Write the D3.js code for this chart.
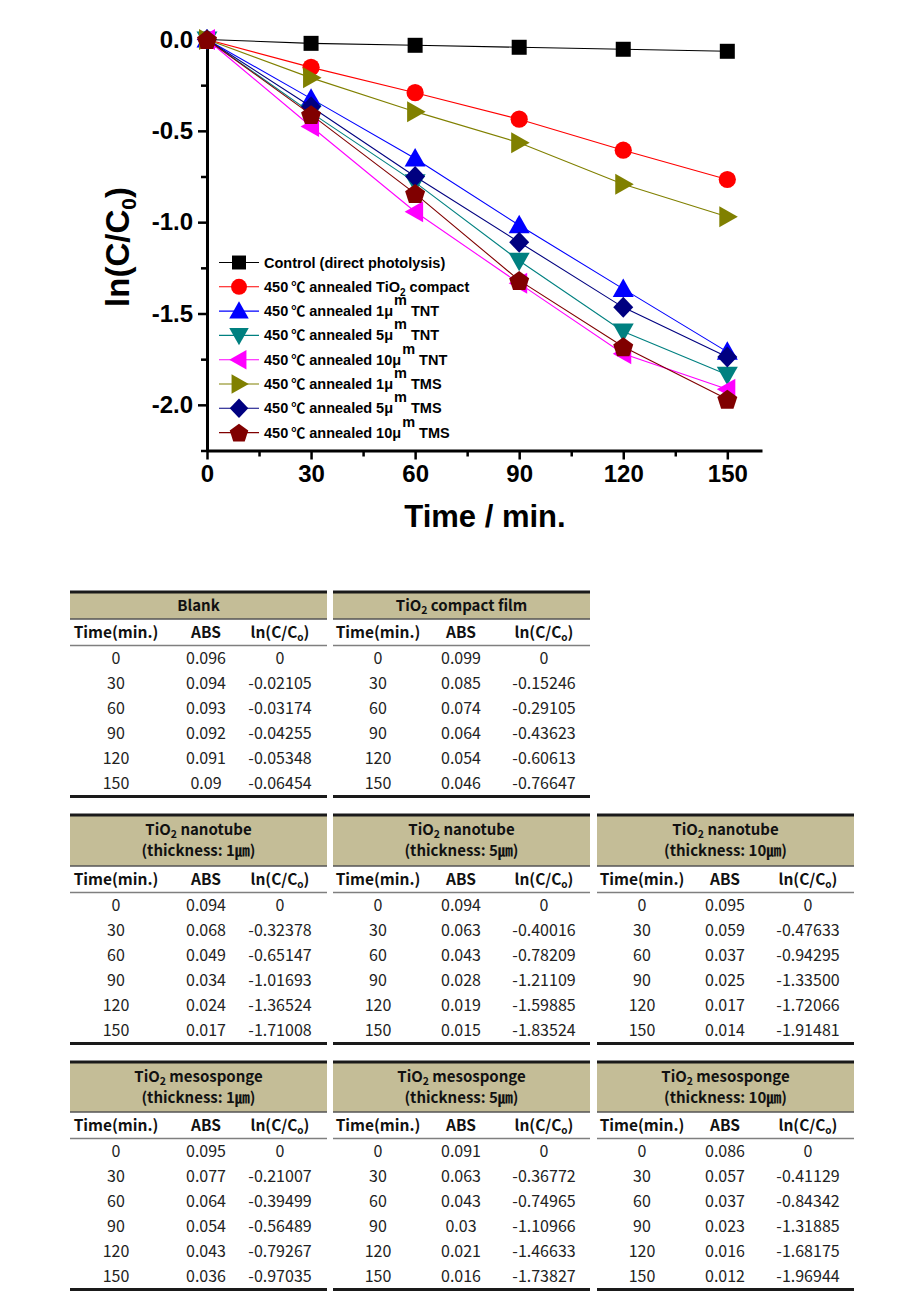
<!DOCTYPE html>
<html><head><meta charset="utf-8">
<script src="https://cdn.jsdelivr.net/npm/d3@7"></script>
<style>
body{margin:0;background:#fff;}
svg{display:block;}
</style></head><body>
<svg id="c" width="900" height="1303"></svg>
<script>
// ---------- data ----------
const times = [0, 30, 60, 90, 120, 150];
const timeLabels = ["0", "30", "60", "90", "120", "150"];

const blankABS   = ["0.096","0.094","0.093","0.092","0.091","0.09"];
const blankLn    = ["0","-0.02105","-0.03174","-0.04255","-0.05348","-0.06454"];
const compactABS = ["0.099","0.085","0.074","0.064","0.054","0.046"];
const compactLn  = ["0","-0.15246","-0.29105","-0.43623","-0.60613","-0.76647"];
const tnt1ABS    = ["0.094","0.068","0.049","0.034","0.024","0.017"];
const tnt1Ln     = ["0","-0.32378","-0.65147","-1.01693","-1.36524","-1.71008"];
const tnt5ABS    = ["0.094","0.063","0.043","0.028","0.019","0.015"];
const tnt5Ln     = ["0","-0.40016","-0.78209","-1.21109","-1.59885","-1.83524"];
const tnt10ABS   = ["0.095","0.059","0.037","0.025","0.017","0.014"];
const tnt10Ln    = ["0","-0.47633","-0.94295","-1.33500","-1.72066","-1.91481"];
const tms1ABS    = ["0.095","0.077","0.064","0.054","0.043","0.036"];
const tms1Ln     = ["0","-0.21007","-0.39499","-0.56489","-0.79267","-0.97035"];
const tms5ABS    = ["0.091","0.063","0.043","0.03","0.021","0.016"];
const tms5Ln     = ["0","-0.36772","-0.74965","-1.10966","-1.46633","-1.73827"];
const tms10ABS   = ["0.086","0.057","0.037","0.023","0.016","0.012"];
const tms10Ln    = ["0","-0.41129","-0.84342","-1.31885","-1.68175","-1.96944"];

const seriesLn = [blankLn, compactLn, tnt1Ln, tnt5Ln, tnt10Ln, tms1Ln, tms5Ln, tms10Ln];
const seriesColors = ["#000000","#ff0000","#0000ff","#008080","#ff00ff","#808000","#000080","#800000"];
const seriesSymbols = ["square","circle","up","down","left","right","diamond","pentagon"];
// legend label segments: [text, kind] kind: n normal, deg (℃), sub, sup
const legendLabels = [
  [["Control (direct photolysis)","n"]],
  [["450","n"],["℃","deg"],[" annealed TiO","n"],["2","sub"],[" compact","n"]],
  [["450","n"],["℃","deg"],[" annealed 1μ","n"],["m","sup"],[" TNT","n"]],
  [["450","n"],["℃","deg"],[" annealed 5μ","n"],["m","sup"],[" TNT","n"]],
  [["450","n"],["℃","deg"],[" annealed 10μ","n"],["m","sup"],[" TNT","n"]],
  [["450","n"],["℃","deg"],[" annealed 1μ","n"],["m","sup"],[" TMS","n"]],
  [["450","n"],["℃","deg"],[" annealed 5μ","n"],["m","sup"],[" TMS","n"]],
  [["450","n"],["℃","deg"],[" annealed 10μ","n"],["m","sup"],[" TMS","n"]]
];

const xTicks = [0, 30, 60, 90, 120, 150];
const xTickLabels = ["0", "30", "60", "90", "120", "150"];
const xMinorTicks = [15, 45, 75, 105, 135];
const yTicks = [0, -0.5, -1.0, -1.5, -2.0];
const yTickLabels = ["0.0", "-0.5", "-1.0", "-1.5", "-2.0"];
const yMinorTicks = [-0.25, -0.75, -1.25, -1.75, -2.25];

const tableTitles = [
  ["Blank"], ["TiO_{2} compact film"],
  ["TiO_{2} nanotube","(thickness: 1㎛)"], ["TiO_{2} nanotube","(thickness: 5㎛)"], ["TiO_{2} nanotube","(thickness: 10㎛)"],
  ["TiO_{2} mesosponge","(thickness: 1㎛)"], ["TiO_{2} mesosponge","(thickness: 5㎛)"], ["TiO_{2} mesosponge","(thickness: 10㎛)"]
];
const tableABS = [blankABS, compactABS, tnt1ABS, tnt5ABS, tnt10ABS, tms1ABS, tms5ABS, tms10ABS];
const tableLn  = [blankLn, compactLn, tnt1Ln, tnt5Ln, tnt10Ln, tms1Ln, tms5Ln, tms10Ln];
const tableHeads = ["Time(min.)", "ABS", "ln(C/C_{o})"];

// ---------- chart ----------
const svg = d3.select("#c");
const x = d3.scaleLinear().domain([0, 160]).range([207, 762]);
const y = d3.scaleLinear().domain([-2.25, 0]).range([450.5, 39.5]);
const AX = "'Liberation Sans', Arial, sans-serif";

function symPath(t){
  switch(t){
    case "square": return "M-7.5,-7.5H7.5V7.5H-7.5Z";
    case "circle": return d3.symbol(d3.symbolCircle, Math.PI*8.6*8.6)();
    case "up": return "M0,-10.5L10.5,8L-10.5,8Z";
    case "down": return "M0,10.5L10.5,-8L-10.5,-8Z";
    case "left": return "M-10.5,0L8,-10.5L8,10.5Z";
    case "right": return "M10.5,0L-8,-10.5L-8,10.5Z";
    case "diamond": return "M0,-10.5L10,0L0,10.5L-10,0Z";
    case "pentagon": {
      const r = 10.5, pts = [];
      for (let k = 0; k < 5; k++){ const a = -Math.PI/2 + k*2*Math.PI/5; pts.push([r*Math.cos(a), r*Math.sin(a)+1]); }
      return "M" + pts.map(p => p.map(v=>v.toFixed(2)).join(",")).join("L") + "Z";
    }
  }
}

// axes
const xAxisG = svg.append("g").attr("transform", `translate(0,${y(-2.25)})`)
  .call(d3.axisBottom(x).tickValues(xTicks).tickFormat((d,i)=>xTickLabels[i]).tickSize(9).tickSizeOuter(0).tickPadding(5));
const xMinorG = svg.append("g").attr("transform", `translate(0,${y(-2.25)})`)
  .call(d3.axisBottom(x).tickValues(xMinorTicks).tickFormat("").tickSize(6).tickSizeOuter(0));
xMinorG.select(".domain").remove();
const yAxisG = svg.append("g").attr("transform", `translate(${x(0)},0)`)
  .call(d3.axisLeft(y).tickValues(yTicks).tickFormat((d,i)=>yTickLabels[i]).tickSize(9).tickSizeOuter(0).tickPadding(5));
const yMinorG = svg.append("g").attr("transform", `translate(${x(0)},0)`)
  .call(d3.axisLeft(y).tickValues(yMinorTicks).tickFormat("").tickSize(6).tickSizeOuter(0));
yMinorG.select(".domain").remove();

[xAxisG, xMinorG, yAxisG, yMinorG].forEach(g => {
  g.select(".domain").attr("stroke", "#000").attr("stroke-width", 3);
  g.selectAll(".tick line").attr("stroke", "#000").attr("stroke-width", 2.5);
  g.selectAll(".tick text").attr("font-family", AX).attr("font-weight", "bold").attr("font-size", 24).attr("fill", "#000");
});

// axis titles
svg.append("text").attr("x", 485).attr("y", 527).attr("text-anchor", "middle")
  .attr("font-family", AX).attr("font-weight", "bold").attr("font-size", 31).text("Time / min.");
const yt = svg.append("text").attr("transform", "translate(129,247) rotate(-90)").attr("text-anchor", "middle")
  .attr("font-family", AX).attr("font-weight", "bold").attr("font-size", 33);
yt.append("tspan").text("ln(C/C");
yt.append("tspan").attr("font-size", 21).attr("dy", 7).text("0");
yt.append("tspan").attr("dy", -7).text(")");

// series
const line = d3.line().x((d,i)=>x(times[i])).y(d=>y(+d));
seriesLn.forEach((vals, s) => {
  const g = svg.append("g");
  g.append("path").attr("d", line(vals)).attr("fill", "none").attr("stroke", seriesColors[s]).attr("stroke-width", 1.1);
  g.selectAll("path.m").data(vals).join("path").attr("class", "m")
    .attr("transform", (d,i)=>`translate(${x(times[i])},${y(+d)})`)
    .attr("d", symPath(seriesSymbols[s])).attr("fill", seriesColors[s]);
});

// legend
const leg = svg.append("g");
legendLabels.forEach((segs, i) => {
  const cy = 262.5 + i*24.3;
  leg.append("line").attr("x1", 219).attr("x2", 259).attr("y1", cy).attr("y2", cy)
    .attr("stroke", seriesColors[i]).attr("stroke-width", 1.1);
  leg.append("path").attr("transform", `translate(239,${cy}) scale(0.93)`).attr("d", symPath(seriesSymbols[i])).attr("fill", seriesColors[i]);
  const t = leg.append("text").attr("x", 264).attr("y", cy + 5)
    .attr("font-family", AX).attr("font-weight", "bold").attr("font-size", 14.5);
  let shift = 0;
  segs.forEach(([txt, kind]) => {
    const ts = t.append("tspan").text(txt);
    let target = 0;
    if (kind === "sub") { target = 4; ts.attr("font-size", 10); }
    if (kind === "sup") { target = -11; }
    if (kind === "deg") { ts.attr("font-family", "'Noto Sans CJK KR', sans-serif").attr("font-weight", "bold").attr("font-size", 14).attr("dx", 3); }
    if (target !== shift) { ts.attr("dy", target - shift); shift = target; }
    if (kind === "sup") ts.attr("dx", 1);
  });
});

// ---------- tables ----------
const TF = "'Noto Sans CJK KR', 'Open Sans', sans-serif";
const colX = [70, 333, 597];
const tableW = 257;
const rowTop = [592, 815, 1062];
const headH = [27, 51, 50];
const subH = 26.5;
const rowH = 25;
const cellPos = [[0,0],[0,1],[1,0],[1,1],[1,2],[2,0],[2,1],[2,2]];

function rich(textSel, str, subSize){
  const parts = str.split(/_\{(.*?)\}/);
  parts.forEach((p, k) => {
    if (!p) return;
    if (k % 2 === 1) textSel.append("tspan").attr("font-size", subSize).attr("dy", 3).text(p);
    else {
      const ts = textSel.append("tspan").text(p);
      if (k > 0) ts.attr("dy", -3);
    }
  });
}

tableTitles.forEach((title, ti) => {
  const [r, c] = cellPos[ti];
  const x0 = colX[c], y0 = rowTop[r], hh = headH[r];
  const cols = c === 0 ? [46, 136, 210] : [45, 128, 211];
  const g = svg.append("g");
  g.append("rect").attr("x", x0).attr("y", y0).attr("width", tableW).attr("height", hh).attr("fill", "#c4bd97");
  g.append("line").attr("x1", x0).attr("x2", x0+tableW).attr("y1", y0).attr("y2", y0).attr("stroke", "#1a1a1a").attr("stroke-width", 3);
  g.append("line").attr("x1", x0).attr("x2", x0+tableW).attr("y1", y0+hh).attr("y2", y0+hh).attr("stroke", "#555").attr("stroke-width", 1.5);
  const ySub = y0 + hh + subH;
  g.append("line").attr("x1", x0).attr("x2", x0+tableW).attr("y1", ySub).attr("y2", ySub).attr("stroke", "#7f7f7f").attr("stroke-width", 1.5);
  const yEnd = ySub + rowH*times.length;
  g.append("line").attr("x1", x0).attr("x2", x0+tableW).attr("y1", yEnd+1).attr("y2", yEnd+1).attr("stroke", "#1a1a1a").attr("stroke-width", 3);
  // title
  title.forEach((ln, li) => {
    const cyT = title.length === 1 ? y0 + hh/2 : y0 + 15 + li*21;
    const t = g.append("text").attr("x", x0 + tableW/2).attr("y", cyT).attr("dy", "0.36em").attr("text-anchor", "middle")
      .attr("font-family", TF).attr("font-weight", "bold").attr("font-size", 15).attr("fill", "#111");
    rich(t, ln, 10.5);
  });
  // sub header
  tableHeads.forEach((h, k) => {
    const t = g.append("text").attr("x", x0 + cols[k]).attr("y", y0 + hh + subH/2).attr("dy", "0.36em").attr("text-anchor", "middle")
      .attr("font-family", TF).attr("font-weight", "bold").attr("font-size", 15.5).attr("fill", "#111");
    rich(t, h, 10);
  });
  // rows
  times.forEach((tm, i) => {
    const cy = ySub + rowH*i + rowH/2;
    [timeLabels[i], tableABS[ti][i], tableLn[ti][i]].forEach((v, k) => {
      g.append("text").attr("x", x0 + cols[k]).attr("y", cy).attr("dy", "0.36em").attr("text-anchor", "middle")
        .attr("font-family", TF).attr("font-size", 16).attr("fill", "#222").text(v);
    });
  });
});
</script>
</body></html>
